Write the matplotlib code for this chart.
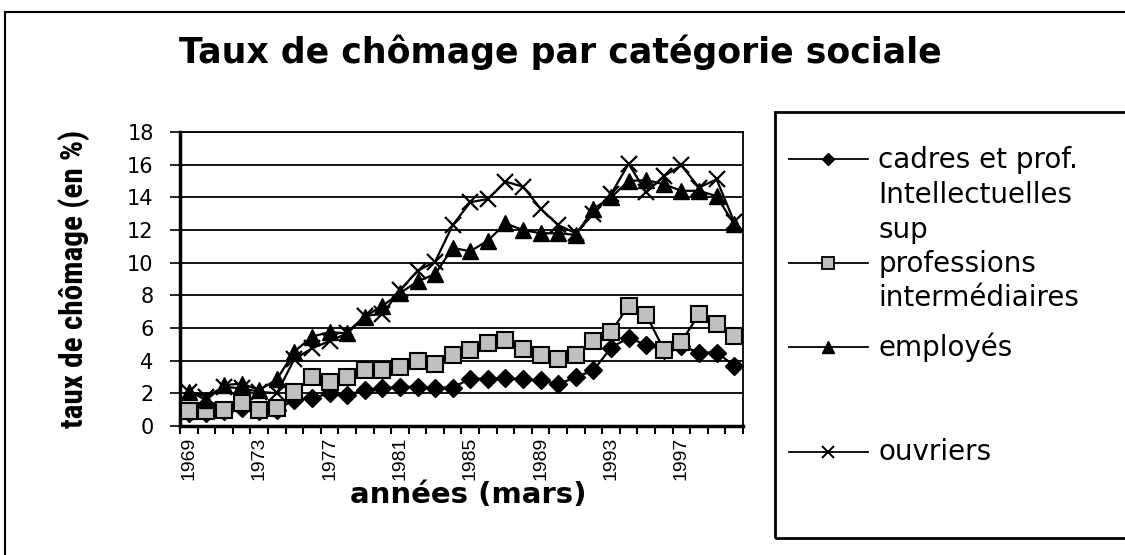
import numpy as np
import matplotlib
matplotlib.use('Agg')
import matplotlib.pyplot as plt
from matplotlib import font_manager
from matplotlib.lines import Line2D
from matplotlib.patches import Rectangle

# Data, years 1969-2000 (mars)
years = list(range(1969, 2001))
cadres = [0.8, 0.8, 0.9, 1.1, 0.9, 1.0, 1.6, 1.7, 2.0, 1.9, 2.2, 2.3, 2.4, 2.4, 2.35, 2.35,
          2.9, 2.9, 2.95, 2.85, 2.8, 2.55, 3.0, 3.4, 4.8, 5.4, 4.96, 4.65, 4.9, 4.5, 4.5, 3.7]
prof_int = [0.9, 0.9, 1.0, 1.4, 1.0, 1.1, 2.1, 3.0, 2.7, 3.0, 3.4, 3.4, 3.6, 4.0, 3.8, 4.35,
            4.65, 5.06, 5.27, 4.7, 4.35, 4.08, 4.33, 5.2, 5.77, 7.36, 6.8, 4.68, 5.16, 6.85, 6.24, 5.5]
employes = [2.1, 1.6, 2.5, 2.6, 2.2, 2.85, 4.55, 5.47, 5.75, 5.67, 6.7, 7.35, 8.13, 8.85, 9.3, 10.9,
            10.7, 11.35, 12.4, 12.0, 11.8, 11.8, 11.7, 13.3, 14.0, 15.0, 15.06, 14.8, 14.4, 14.4, 14.07, 12.35]
ouvriers = [2.1, 1.8, 2.4, 2.3, 2.1, 2.0, 4.1, 4.75, 5.2, 5.67, 6.75, 6.85, 8.3, 9.5, 10.06, 12.3,
            13.7, 13.9, 14.96, 14.65, 13.3, 12.3, 11.8, 13.0, 14.2, 16.05, 14.3, 15.3, 15.95, 14.6, 15.1, 12.5]

labels = ['cadres et prof.\nIntellectuelles\nsup',
          'professions\nintermédiaires',
          'employés',
          'ouvriers']

W, H = 1125, 555
def fx(px):
    return px / W
def fy(py):
    return 1 - py / H

plt.rcParams['font.family'] = ['DejaVu Sans']

# narrow font for the y label if one is available
installed = {f.name for f in font_manager.fontManager.ttflist}
narrow = None
for name in ['Liberation Sans Narrow', 'DejaVu Sans Condensed', 'Roboto Condensed']:
    if name in installed:
        narrow = name
        break
if narrow:
    ylab_font = dict(family=[narrow, 'DejaVu Sans'], fontsize=22.5)
else:
    ylab_font = dict(family=['DejaVu Sans'], fontsize=15.5)

fig = plt.figure(figsize=(W / 100, H / 100), dpi=100)
ax = fig.add_axes([fx(180), fy(426), fx(743) - fx(180), fy(132) - fy(426)])

x = np.arange(len(years))
styles = [
    dict(marker='D', ms=9, mfc='black', mec='black'),
    dict(marker='s', ms=11, mfc='#c0c0c0', mec='black', mew=1.5),
    dict(marker='^', ms=11, mfc='black', mec='black'),
    dict(marker='x', ms=11, mec='black', mew=1.6),
]
series = [cadres, prof_int, employes, ouvriers]
for vals, st in zip(series, styles):
    ax.plot(x, vals, color='black', lw=1.6, clip_on=False, zorder=3, **st)

ax.set_xlim(-0.5, len(years) - 0.5)
ax.set_ylim(0, 18)
ax.set_yticks(range(0, 19, 2))
ax.yaxis.grid(True, color='black', lw=1.3)
ax.set_axisbelow(True)

tick_idx = list(range(0, len(years), 4))
ax.set_xticks(tick_idx)
ax.set_xticklabels([str(years[i]) for i in tick_idx], rotation=90, fontsize=14,
                   family=['Liberation Sans', 'DejaVu Sans'])
ax.set_xticks(np.arange(-0.5, len(years), 1), minor=True)
ax.tick_params(axis='x', which='major', length=0, pad=8)
ax.tick_params(axis='x', which='minor', length=6, width=1.5, direction='out')
ax.tick_params(axis='y', length=7, width=1.2, direction='out', labelsize=15, pad=12)

for side in ['left', 'bottom']:
    ax.spines[side].set_linewidth(2.5)
for side in ['top', 'right']:
    ax.spines[side].set_linewidth(1.3)

ax.set_ylabel('taux de chômage (en %)', fontweight='bold', **ylab_font)
ax.yaxis.set_label_coords((90 - 180) / 563, 0.5)

fig.text(fx(560), fy(52), 'Taux de chômage par catégorie sociale', fontsize=25,
         fontweight='bold', ha='center', va='center')
fig.text(fx(468), fy(495), 'années (mars)', fontsize=21, fontweight='bold',
         ha='center', va='center')

# outer frame and legend box
fig.patches.append(Rectangle((fx(5), fy(560)), fx(1135) - fx(5), fy(12) - fy(560),
                             transform=fig.transFigure, fill=False, lw=1.5,
                             ec='black'))
fig.patches.append(Rectangle((fx(775), fy(538)), fx(1135) - fx(775), fy(112) - fy(538),
                             transform=fig.transFigure, fill=False, lw=2,
                             ec='black'))

# legend entries
handle_y = [159, 263, 347, 452]
text_y = [195, 281, 347, 452]
leg_styles = [
    dict(marker='D', ms=6, mfc='black', mec='black'),
    dict(marker='s', ms=8, mfc='#c0c0c0', mec='black', mew=1.3),
    dict(marker='^', ms=9, mfc='black', mec='black'),
    dict(marker='x', ms=9, mec='black', mew=1.4),
]
for hy, ty, lab, st in zip(handle_y, text_y, labels, leg_styles):
    fig.lines.append(Line2D([fx(789), fx(868)], [fy(hy), fy(hy)], color='black', lw=1.3,
                            transform=fig.transFigure))
    fig.lines.append(Line2D([fx(828)], [fy(hy)], color='black', lw=0,
                            transform=fig.transFigure, **st))
    fig.text(fx(878), fy(ty), lab, fontsize=20, ha='left', va='center',
             linespacing=1.3)

fig.savefig('out.png', dpi=100)
